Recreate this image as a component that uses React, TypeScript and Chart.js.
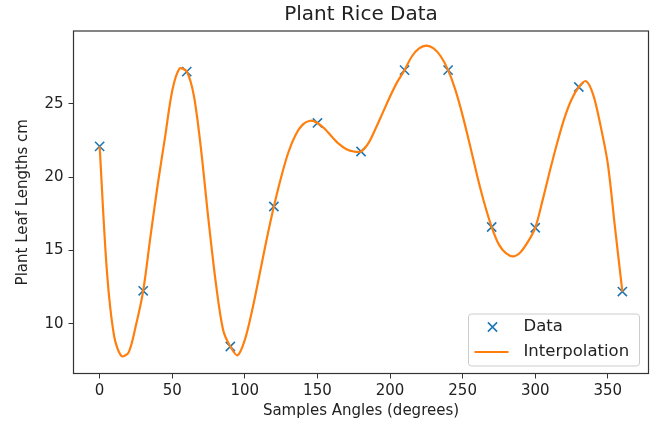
import React, { useEffect, useRef } from "react";
import { Chart, registerables } from "chart.js";

Chart.register(...registerables);

// ---- data ----
const sampleAngles = [0, 30, 60, 90, 120, 150, 180, 210, 240, 270, 300, 330, 360];
const sampleLengths = [22.1, 12.25, 27.2, 8.45, 18.0, 23.7, 21.75, 27.3, 27.3, 16.6, 16.55, 26.15, 12.2];

const curveAngles = [
  0, 5, 10, 15, 20, 25, 30, 35, 40, 45, 50, 55, 60, 65, 70, 75, 80, 85, 90, 95,
  100, 105, 110, 115, 120, 125, 130, 135, 140, 145, 150, 155, 160, 165, 170, 175,
  180, 185, 190, 195, 200, 205, 210, 215, 220, 225, 230, 235, 240, 245, 250, 255,
  260, 265, 270, 275, 280, 285, 290, 295, 300, 305, 310, 315, 320, 325, 330, 335,
  340, 345, 350, 355, 360,
];
const curveLengths = [
  22.1, 13.6, 9.15, 7.8, 8.05, 9.9, 12.25, 15.95, 19.5, 22.7, 25.9, 27.4, 27.2, 25.5, 21.75, 17.05, 12.8, 9.6, 8.45, 7.85,
  8.9, 10.9, 13.3, 15.75, 18.0, 20.0, 21.7, 22.9, 23.6, 23.85, 23.7, 23.3, 22.75, 22.25, 21.9, 21.75,
  21.75, 22.3, 23.3, 24.4, 25.5, 26.5, 27.3, 28.23, 28.78, 28.97, 28.78, 28.23, 27.3, 25.95, 24.2, 22.2,
  20.1, 18.2, 16.6, 15.4, 14.8, 14.6, 14.9, 15.6, 16.55, 18.4, 20.4, 22.3, 24.0, 25.3, 26.15, 26.55,
  25.6, 23.5, 20.9, 16.5, 12.2,
];

const xTickValues = [0, 50, 100, 150, 200, 250, 300, 350];
const yTickValues = [10, 15, 20, 25];

const chartTitle = "Plant Rice Data";
const xTitle = "Samples Angles (degrees)";
const yTitle = "Plant Leaf Lengths cm";
const legendLabels = ["Data", "Interpolation"];

const BLUE = "#1f77b4";
const ORANGE = "#ff7f0e";
const TEXT = "#222222";
const AXIS = "#333333";
const FONT = "'DejaVu Sans', sans-serif";

const frameLegendPlugin = {
  id: "frameLegend",
  afterDraw(chart: any) {
    const { ctx, chartArea } = chart;
    const { left, right, top, bottom } = chartArea;
    ctx.save();
    // axes frame
    ctx.strokeStyle = AXIS;
    ctx.lineWidth = 1.2;
    ctx.strokeRect(left, top, right - left, bottom - top);

    // legend
    const w = 171;
    const h = 52;
    const x0 = right - 9 - w;
    const y0 = bottom - 7.5 - h;
    ctx.beginPath();
    ctx.roundRect(x0, y0, w, h, 3);
    ctx.globalAlpha = 0.8;
    ctx.fillStyle = "#ffffff";
    ctx.fill();
    ctx.globalAlpha = 1;
    ctx.strokeStyle = "#cccccc";
    ctx.lineWidth = 1;
    ctx.stroke();

    const r1 = y0 + 13;
    const r2 = y0 + 38;
    // x marker
    const mx = x0 + 24;
    const d = 4.6;
    ctx.strokeStyle = BLUE;
    ctx.lineWidth = 1.6;
    ctx.beginPath();
    ctx.moveTo(mx - d, r1 - d);
    ctx.lineTo(mx + d, r1 + d);
    ctx.moveTo(mx + d, r1 - d);
    ctx.lineTo(mx - d, r1 + d);
    ctx.stroke();
    // line handle
    ctx.strokeStyle = ORANGE;
    ctx.lineWidth = 2.2;
    ctx.beginPath();
    ctx.moveTo(x0 + 6, r2);
    ctx.lineTo(x0 + 40, r2);
    ctx.stroke();

    ctx.fillStyle = TEXT;
    ctx.font = `16.5px ${FONT}`;
    ctx.textBaseline = "middle";
    ctx.textAlign = "left";
    ctx.fillText(legendLabels[0], x0 + 55, r1);
    ctx.fillText(legendLabels[1], x0 + 55, r2);
    ctx.restore();
  },
};

export default function App() {
  const canvasRef = useRef<HTMLCanvasElement | null>(null);

  useEffect(() => {
    const canvas = canvasRef.current;
    if (!canvas) return;
    const chart = new Chart(canvas, {
      type: "scatter",
      data: {
        datasets: [
          {
            label: legendLabels[1],
            data: curveAngles.map((a, i) => ({ x: a, y: curveLengths[i] })),
            showLine: true,
            borderColor: ORANGE,
            backgroundColor: ORANGE,
            borderWidth: 2.2,
            pointRadius: 0,
            tension: 0.3,
            order: 0,
          },
          {
            label: legendLabels[0],
            data: sampleAngles.map((a, i) => ({ x: a, y: sampleLengths[i] })),
            showLine: false,
            pointStyle: "crossRot",
            pointRadius: 6.5,
            borderColor: BLUE,
            backgroundColor: BLUE,
            pointBorderWidth: 1.6,
            order: 1,
          },
        ],
      },
      options: {
        responsive: false,
        animation: false,
        devicePixelRatio: 1,
        layout: { autoPadding: false, padding: { left: 0, right: 2.5, top: 0, bottom: 0 } },
        plugins: {
          legend: { display: false },
          tooltip: { enabled: false },
          title: {
            display: true,
            text: chartTitle,
            fullSize: false,
            color: TEXT,
            font: { family: FONT, size: 20, weight: "normal" },
            padding: { top: 3, bottom: 4 },
          },
        },
        scales: {
          x: {
            type: "linear",
            position: "bottom",
            min: -18,
            max: 378,
            afterBuildTicks: (s: any) => {
              s.ticks = xTickValues.map((v) => ({ value: v }));
            },
            afterFit: (s: any) => {
              s.height = 50.5;
              s.paddingLeft = 0;
              s.paddingRight = 0;
            },
            grid: { display: true, drawOnChartArea: false, drawTicks: true, tickLength: 5, color: AXIS, lineWidth: 1 },
            border: { display: false },
            ticks: { color: TEXT, font: { family: FONT, size: 15 }, padding: 4, autoSkip: false, maxRotation: 0 },
            title: {
              display: true,
              text: xTitle,
              color: TEXT,
              font: { family: FONT, size: 15 },
              padding: { top: 0, bottom: 4 },
            },
          },
          y: {
            type: "linear",
            min: 6.61,
            max: 29.97,
            afterBuildTicks: (s: any) => {
              s.ticks = yTickValues.map((v) => ({ value: v }));
            },
            afterFit: (s: any) => {
              s.width = 73.5;
              s.paddingTop = 0;
              s.paddingBottom = 0;
            },
            grid: { display: true, drawOnChartArea: false, drawTicks: true, tickLength: 5, color: AXIS, lineWidth: 1 },
            border: { display: false },
            ticks: { color: TEXT, font: { family: FONT, size: 15 }, padding: 5 },
            title: {
              display: true,
              text: yTitle,
              color: TEXT,
              font: { family: FONT, size: 15 },
              padding: { top: 14, bottom: 0 },
            },
          },
        },
      },
      plugins: [frameLegendPlugin],
    } as any);
    return () => chart.destroy();
  }, []);

  return (
    <div style={{ position: "fixed", left: 0, top: 0, width: 651, height: 424, background: "#ffffff" }}>
      <canvas ref={canvasRef} width={651} height={424} />
    </div>
  );
}
